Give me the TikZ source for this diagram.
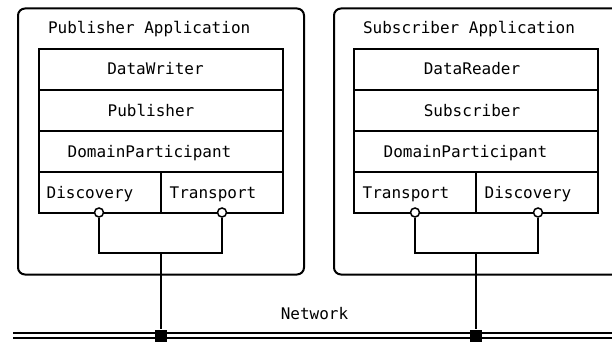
\documentclass[tikz,border=0pt]{standalone}
\usepackage{fontspec}
\setmonofont{DejaVu Sans Mono}
\begin{document}
\begin{tikzpicture}[x=1pt, y=-1pt, line width=2pt,
  app/.style={draw, rounded corners=7pt},
  cell/.style={draw, minimum width=244pt, minimum height=41pt, inner sep=0pt, outer sep=0pt},
  half/.style={draw, minimum width=122pt, minimum height=41pt, inner sep=0pt, outer sep=0pt},
  lbl/.style={font=\ttfamily\fontsize{16}{19}\selectfont, inner sep=0pt, anchor=base},
  port/.style={circle, draw, fill=white, minimum size=9pt, inner sep=0pt, line width=1.5pt},
  tap/.style={rectangle, fill=black, minimum size=12pt, inner sep=0pt},
  bus/.style={double, double distance=3.6pt, line width=2pt}]
\useasboundingbox (0,0) rectangle (612,342);

% application frames
\draw[app] (18,8.5) rectangle (304,274.5);
\draw[app] (334,8.5) rectangle (622,274.5);

% publisher stack
\node[cell] (pw) at (161,69.5) {};
\node[cell] (pp) at (161,110.5) {};
\node[cell] (pd) at (161,151.5) {};
\node[half] (pdisc) at (100,192.5) {};
\node[half] (ptran) at (222,192.5) {};

% subscriber stack
\node[cell] (sr) at (476,69.5) {};
\node[cell] (ss) at (476,110.5) {};
\node[cell] (sd) at (476,151.5) {};
\node[half] (stran) at (415,192.5) {};
\node[half] (sdisc) at (537,192.5) {};

% labels
\node[lbl, anchor=base west] (ptitle) at (47,33.5) {Publisher Application};
\node[lbl] at (155.5,75) {DataWriter};
\node[lbl] at (151,116) {Publisher};
\node[lbl] at (149.5,157) {DomainParticipant};
\node[lbl] at (90,198.5) {Discovery};
\node[lbl] at (213,198.5) {Transport};

\node[lbl, anchor=base west] (stitle) at (362,33.5) {Subscriber Application};
\node[lbl] at (472,75) {DataReader};
\node[lbl] at (472,116) {Subscriber};
\node[lbl] at (465.5,157) {DomainParticipant};
\node[lbl] at (406,198.5) {Transport};
\node[lbl] at (528,198.5) {Discovery};

\node[lbl] (net) at (314.5,319) {Network};

% network bus
\coordinate (busL) at (13,335.5);
\coordinate (busR) at (616,335.5);
\draw[bus] (busL) -- (busR);

% junctions
\coordinate (pj) at (161,253);
\coordinate (sj) at (476,253);

% ports
\node[port] (pc1) at (99,212.5) {};
\node[port] (pc2) at (222,212.5) {};
\node[port] (sc1) at (415,212.5) {};
\node[port] (sc2) at (538,212.5) {};

% taps on the bus
\node[tap] (pt) at (161,335.5) {};
\node[tap] (st) at (476,335.5) {};

% connectors
\draw (pc1.south) |- (pj) -| (pc2.south);
\draw (pj) -- (pt.north);
\draw (sc1.south) |- (sj) -| (sc2.south);
\draw (sj) -- (st.north);
\end{tikzpicture}
\end{document}
